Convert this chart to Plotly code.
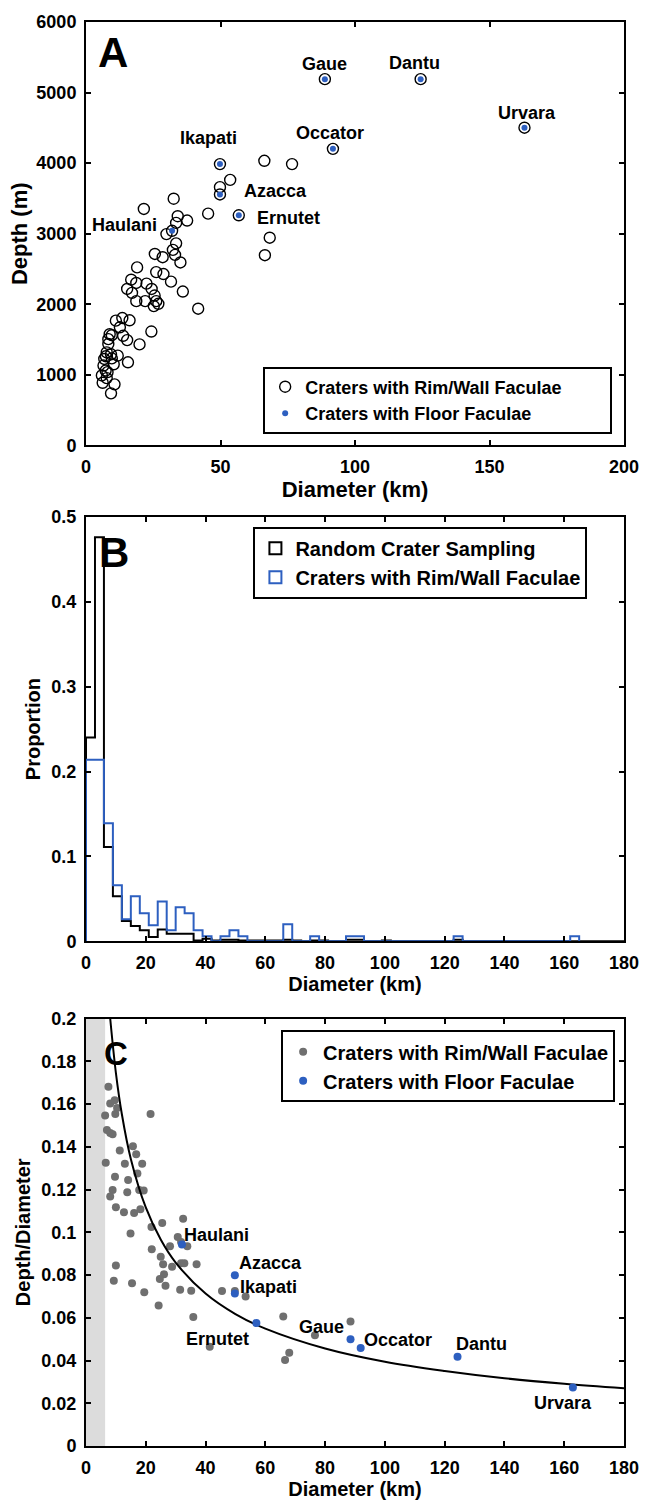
import plotly.graph_objects as go

# ---------------- Panel A data: depth vs diameter ----------------
A_RIM_DIAM = [88.8, 124.4, 163.0, 91.8, 49.8, 66.3, 76.6, 53.6, 49.8, 49.8,
              32.6, 45.4, 21.5, 56.8, 34.1, 37.6, 33.5, 32.0, 29.9, 68.3,
              66.5, 33.5, 32.3, 33.1, 25.6, 28.5, 35.1, 19.0, 26.1, 28.8,
              31.6, 16.8, 18.7, 22.5, 24.4, 15.3, 17.1, 18.7, 22.0, 25.5,
              26.1, 25.2, 26.9, 36.0, 41.7, 11.1, 13.5, 16.2, 24.3, 9.6,
              12.6, 13.8, 15.3, 19.9, 8.3, 7.7, 9.3, 7.4, 9.6, 10.3,
              6.5, 15.6, 5.9, 7.3, 7.7, 6.2, 10.6, 9.3, 8.3, 8.8,
              6.8, 8.0, 11.8]
A_RIM_DEPTH = [5190, 5190, 4502, 4203, 3987, 4034, 3987, 3763, 3660, 3557,
               3496, 3285, 3351, 3262, 3248, 3187, 3154, 3042, 2995, 2944,
               2696, 2864, 2771, 2700, 2714, 2668, 2593, 2523, 2457, 2429,
               2321, 2349, 2303, 2293, 2218, 2218, 2162, 2045, 2045, 2125,
               2045, 1975, 2008, 2181, 1938, 1769, 1806, 1774, 1615, 1563,
               1675, 1554, 1493, 1432, 1437, 1320, 1292, 1264, 1235, 1151,
               1133, 1179, 992, 1062, 955, 889, 866, 739, 1507, 1577,
               1226, 1039, 1273]

FLOOR_NAMES = ["Gaue", "Dantu", "Urvara", "Occator", "Ikapati", "Azacca", "Ernutet", "Haulani"]
A_FLOOR_DIAM = [88.8, 124.4, 163.0, 91.8, 49.8, 49.8, 56.8, 32.0]
A_FLOOR_DEPTH = [5190, 5190, 4502, 4203, 3987, 3557, 3262, 3042]
A_LABEL_X = [88.5, 122.3, 163.9, 90.7, 45.7, 70.6, 75.1, 14.4]
A_LABEL_Y = [5401, 5424, 4713, 4427, 4362, 3599, 3225, 3122]

# ---------------- Panel B data: histograms (3 km bins) ----------------
BIN_WIDTH = 3
RANDOM_PROP = [0.240, 0.476, 0.111, 0.053, 0.024, 0.018, 0.013, 0.005, 0.014, 0.009,
               0.009, 0.009, 0.001, 0.003, 0.001, 0.002, 0.002, 0.001, 0.001, 0.001,
               0.001, 0.001, 0.002, 0.001, 0.000, 0.001, 0.001, 0.000, 0.000, 0.002,
               0.002, 0.000, 0.000, 0.001, 0.000, 0.000, 0.000, 0.000, 0.000, 0.000,
               0.000, 0.002, 0.000, 0.000, 0.000, 0.000, 0.000, 0.000, 0.000, 0.000,
               0.000, 0.000, 0.000, 0.000, 0.000, 0.000, 0.000, 0.000, 0.000, 0.000]
RIM_PROP = [0.214, 0.214, 0.139, 0.066, 0.026, 0.053, 0.033, 0.019, 0.047, 0.013,
            0.040, 0.033, 0.013, 0.006, 0.000, 0.006, 0.013, 0.006, 0.000, 0.000,
            0.000, 0.000, 0.020, 0.000, 0.000, 0.006, 0.000, 0.000, 0.000, 0.006,
            0.006, 0.000, 0.000, 0.000, 0.000, 0.000, 0.000, 0.000, 0.000, 0.000,
            0.000, 0.006, 0.000, 0.000, 0.000, 0.000, 0.000, 0.000, 0.000, 0.000,
            0.000, 0.000, 0.000, 0.000, 0.006]

# ---------------- Panel C data: depth/diameter ----------------
C_RIM_DIAM = [7.5, 6.4, 8.1, 9.6, 9.8, 10.4, 7.0, 8.1, 8.9, 6.6,
              11.3, 13.0, 13.8, 8.9, 8.1, 9.7, 10.0, 12.7, 14.1, 15.7,
              16.8, 17.2, 18.8, 17.8, 19.3, 18.2, 16.1, 21.6, 21.9, 25.5,
              32.5, 14.9, 30.7, 31.8, 33.9, 28.1, 22.0, 25.0, 26.1, 25.8,
              26.6, 24.7, 28.8, 31.8, 32.9, 37.0, 10.0, 9.3, 15.4, 19.5,
              24.3, 31.5, 35.2, 35.9, 41.4, 45.5, 49.8, 53.4, 66.0, 66.6,
              68.0, 76.6, 88.5]
C_RIM_RATIO = [0.1681, 0.1546, 0.1603, 0.1618, 0.1553, 0.1581, 0.1479, 0.1464, 0.1458, 0.1325,
               0.1383, 0.1321, 0.1187, 0.1198, 0.1167, 0.1260, 0.1117, 0.1094, 0.1244, 0.1402,
               0.1365, 0.1275, 0.1321, 0.1198, 0.1195, 0.1108, 0.1090, 0.1553, 0.1025, 0.1043,
               0.1063, 0.0994, 0.0978, 0.0954, 0.0935, 0.0935, 0.0920, 0.0886, 0.0804, 0.0850,
               0.0750, 0.0781, 0.0839, 0.0855, 0.0855, 0.0850, 0.0845, 0.0773, 0.0762, 0.0719,
               0.0657, 0.0731, 0.0726, 0.0603, 0.0464, 0.0725, 0.0725, 0.0700, 0.0606, 0.0402,
               0.0436, 0.0518, 0.0583]
C_FLOOR_DIAM = [88.5, 124.3, 162.9, 91.9, 49.8, 49.8, 57.0, 32.1]
C_FLOOR_RATIO = [0.0499, 0.0417, 0.0274, 0.0459, 0.0714, 0.0799, 0.0575, 0.0943]
C_LABEL_X = [78.7, 132.3, 159.7, 104.5, 61.2, 61.7, 44.1, 43.7]
C_LABEL_Y = [0.0556, 0.0476, 0.0201, 0.0495, 0.0742, 0.0858, 0.0502, 0.0986]

# fitted trend curve
CURVE_DIAM = [8.1, 10, 12, 15, 20, 25, 30, 40, 50, 60, 80, 100, 120, 140, 160, 180]
CURVE_RATIO = [0.200, 0.1746, 0.1552, 0.1343, 0.1116, 0.0966, 0.0858, 0.0713, 0.0617,
               0.0549, 0.0456, 0.0394, 0.0351, 0.0317, 0.0291, 0.027]
MIN_DIAM = 6.4  # shaded band in panel C

BLACK = "#000000"
BLUE = "#2d5fc0"
GRAY = "#6f6f6f"
FONT = "Liberation Sans, Arial, sans-serif"


def stairs(vals, w):
    xs, ys = [0.0], [0.0]
    for i, v in enumerate(vals):
        xs.append(i * w)
        ys.append(v)
    xs.append(len(vals) * w)
    ys.append(0.0)
    return xs, ys


fig = go.Figure()

# Panel A
fig.add_trace(go.Scatter(x=A_RIM_DIAM, y=A_RIM_DEPTH, mode="markers", xaxis="x", yaxis="y",
                         name="Craters with Rim/Wall Faculae", legend="legend",
                         marker=dict(symbol="circle-open", size=11, color=BLACK, line=dict(width=1.4))))
fig.add_trace(go.Scatter(x=A_FLOOR_DIAM, y=A_FLOOR_DEPTH, mode="markers", xaxis="x", yaxis="y",
                         name="Craters with Floor Faculae", legend="legend",
                         marker=dict(symbol="circle", size=6, color=BLUE)))

# Panel B
bx, by = stairs(RIM_PROP, BIN_WIDTH)
kx, ky = stairs(RANDOM_PROP, BIN_WIDTH)
fig.add_trace(go.Scatter(x=kx, y=ky, mode="lines", line=dict(color=BLACK, width=2, shape="hv"),
                         xaxis="x2", yaxis="y2", showlegend=False))
fig.add_trace(go.Scatter(x=bx, y=by, mode="lines", line=dict(color=BLUE, width=2, shape="hv"),
                         xaxis="x2", yaxis="y2", showlegend=False))
fig.add_trace(go.Bar(x=[None], y=[None], xaxis="x2", yaxis="y2", name="Random Crater Sampling",
                     legend="legend2",
                     marker=dict(color="rgba(0,0,0,0)", line=dict(color=BLACK, width=2))))
fig.add_trace(go.Bar(x=[None], y=[None], xaxis="x2", yaxis="y2", name="Craters with Rim/Wall Faculae",
                     legend="legend2",
                     marker=dict(color="rgba(0,0,0,0)", line=dict(color=BLUE, width=2))))

# Panel C
fig.add_trace(go.Scatter(x=C_RIM_DIAM, y=C_RIM_RATIO, mode="markers", xaxis="x3", yaxis="y3",
                         name="Craters with Rim/Wall Faculae", legend="legend3",
                         marker=dict(size=8, color=GRAY)))
fig.add_trace(go.Scatter(x=CURVE_DIAM, y=CURVE_RATIO, mode="lines", xaxis="x3", yaxis="y3",
                         line=dict(color=BLACK, width=2, shape="spline"), showlegend=False))
fig.add_trace(go.Scatter(x=C_FLOOR_DIAM, y=C_FLOOR_RATIO, mode="markers", xaxis="x3", yaxis="y3",
                         name="Craters with Floor Faculae", legend="legend3",
                         marker=dict(size=8, color=BLUE)))

ann = []
for n, x, y in zip(FLOOR_NAMES, A_LABEL_X, A_LABEL_Y):
    ann.append(dict(x=x, y=y, xref="x", yref="y", text=n, showarrow=False,
                    font=dict(family=FONT, size=18, color=BLACK, weight="bold")))
for n, x, y in zip(FLOOR_NAMES, C_LABEL_X, C_LABEL_Y):
    ann.append(dict(x=x, y=y, xref="x3", yref="y3", text=n, showarrow=False,
                    font=dict(family=FONT, size=18, color=BLACK, weight="bold")))
ann.append(dict(x=9.9, y=5566, xref="x", yref="y", text="A", showarrow=False,
                font=dict(family=FONT, size=42, color=BLACK, weight="bold")))
ann.append(dict(x=9.2, y=0.458, xref="x2", yref="y2", text="B", showarrow=False,
                font=dict(family=FONT, size=42, color=BLACK, weight="bold")))
ann.append(dict(x=9.9, y=0.1838, xref="x3", yref="y3", text="C", showarrow=False,
                font=dict(family=FONT, size=33, color=BLACK, weight="bold")))

tickfont = dict(family=FONT, size=18, color=BLACK, weight="bold")


def ax(**kw):
    d = dict(showline=True, linecolor=BLACK, linewidth=2, mirror="ticks", ticks="inside",
             ticklen=5, tickwidth=1.5, tickcolor=BLACK, showgrid=False, zeroline=False,
             tickfont=tickfont, ticklabelstandoff=4)
    d.update(kw)
    return d


def title(t, size, standoff):
    return dict(text=t, font=dict(family=FONT, size=size, color=BLACK, weight="bold"), standoff=standoff)


legfont = dict(family=FONT, color=BLACK, weight="bold")

fig.update_layout(
    width=651, height=1507,
    margin=dict(l=86, r=18, t=13, b=55),
    paper_bgcolor="white", plot_bgcolor="white",
    font=dict(family=FONT, color=BLACK),
    xaxis=ax(domain=[0, 1], range=[0, 200], tickvals=[0, 50, 100, 150, 200], anchor="y",
             title=title("Diameter (km)", 22, 5)),
    yaxis=ax(domain=[0.7026, 1], range=[0, 6000], tickvals=[0, 1000, 2000, 3000, 4000, 5000, 6000],
             anchor="x", title=title("Depth (m)", 22, 3)),
    xaxis2=ax(domain=[0, 1], range=[0, 180], tickvals=list(range(0, 181, 20)), anchor="y2",
              title=title("Diameter (km)", 20, 5)),
    yaxis2=ax(domain=[0.3544, 0.6525], range=[0, 0.5], tickvals=[0, 0.1, 0.2, 0.3, 0.4, 0.5],
              ticktext=["0", "0.1", "0.2", "0.3", "0.4", "0.5"], anchor="x2",
              title=title("Proportion", 20, 5)),
    xaxis3=ax(domain=[0, 1], range=[0, 180], tickvals=list(range(0, 181, 20)), anchor="y3",
              title=title("Diameter (km)", 20, 3)),
    yaxis3=ax(domain=[0, 0.3002], range=[0, 0.2],
              tickvals=[0, 0.02, 0.04, 0.06, 0.08, 0.1, 0.12, 0.14, 0.16, 0.18, 0.2],
              ticktext=["0", "0.02", "0.04", "0.06", "0.08", "0.1", "0.12", "0.14", "0.16", "0.18", "0.2"],
              anchor="x3", title=title("Depth/Diameter", 20, 5)),
    legend=dict(x=0.978, y=0.711, xanchor="right", yanchor="bottom", orientation="h",
                entrywidth=300, entrywidthmode="pixels",
                bordercolor=BLACK, borderwidth=2, bgcolor="white", font=dict(size=18, **legfont)),
    legend2=dict(x=0.932, y=0.6456, xanchor="right", yanchor="top",
                 bordercolor=BLACK, borderwidth=2, bgcolor="white", font=dict(size=20, **legfont)),
    legend3=dict(x=0.9835, y=0.2919, xanchor="right", yanchor="top",
                 bordercolor=BLACK, borderwidth=2, bgcolor="white", font=dict(size=20, **legfont)),
    shapes=[dict(type="rect", xref="x3", yref="y3 domain", x0=0, x1=MIN_DIAM, y0=0, y1=1,
                 fillcolor="#dcdcdc", line=dict(width=0), layer="below")],
    annotations=ann,
    showlegend=True,
    barmode="overlay",
)

fig.write_html("out.html")
